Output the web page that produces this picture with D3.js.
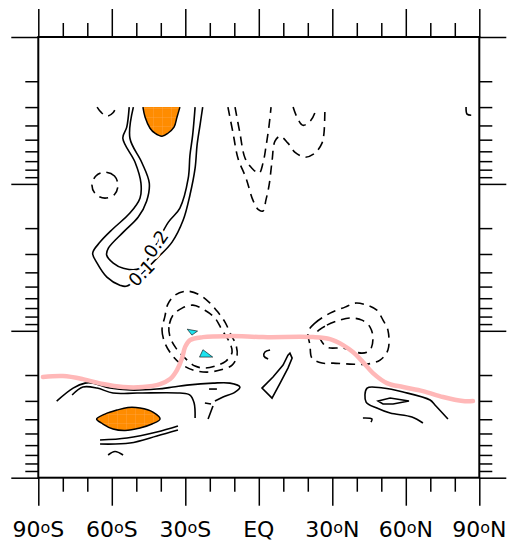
<!DOCTYPE html>
<html lang="en">
<head>
<meta charset="UTF-8">
<title>Latitude-pressure section</title>
<script src="https://d3js.org/d3.v7.min.js"></script>
<style>
  body { margin: 0; background: #fff; }
  svg { display: block; }
</style>
</head>
<body>
<script>
// ---- axis ticks ----
const latMajor = [-90, -60, -30, 0, 30, 60, 90]
const latMinor = [-80, -70, -50, -40, -20, -10, 10, 20, 40, 50, 70, 80]
const latLabelNum = ["90", "60", "30", "EQ", "30", "60", "90"]
const latLabelHemi = ["S", "S", "S", "", "N", "N", "N"]
const presMajor = [1, 10, 100, 1000]
const presMinor = [2, 3, 4, 5, 6, 7, 8, 9, 20, 30, 40, 50, 60, 70, 80, 90,
                   200, 300, 400, 500, 600, 700, 800, 900]

// ---- contours, [latitude, pressure hPa] ----
// positive (solid) lines
const cont01 = [[-52.9,3.0],[-53.9,4.11],[-55.5,4.89],[-50.5,7.12],[-48.1,9.89],[-48.5,12.5],[-52.6,15.8],[-59.5,20.2],[-64.8,24.9],[-67.8,29.6],[-66.0,34.6],[-62.0,43.1],[-56.7,48.9],[-53.8,49.6],[-41.1,31.5],[-35.4,24.9],[-30.9,17.7],[-28.1,11.9],[-26.0,7.82],[-25.2,5.45],[-24.0,3.99],[-22.9,3.0]]
const cont02 = [[-51.2,3.0],[-52.6,4.89],[-47.8,7.12],[-44.7,9.89],[-45.8,13.1],[-49.2,16.8],[-55.3,21.3],[-61.4,27.4],[-62.1,30.5],[-59.4,34.6],[-55.3,37.5],[-48.5,37.5],[-36.9,18.2],[-32.2,14.6],[-28.8,9.15],[-28.1,6.38],[-27.0,4.66],[-26.0,3.0]]
const poleTick = [[84.6,3.0],[85.0,3.35],[86.7,3.41]]
const lowOuter = [[-82.5,300.8],[-75.8,245.4],[-70.9,227.0],[-67.7,227.0],[-60.7,245.4],[-52.6,253.2],[-41.6,249.2],[-35.0,241.5],[-29.3,234.2],[-18.7,227.0],[-11.8,227.0],[-7.7,241.5],[-9.7,261.2],[-14.6,282.5],[-17.9,300.8]]
const lowInner = [[-76.2,273.8],[-71.8,241.5],[-66.0,245.4],[-59.5,265.4],[-49.7,265.4],[-32.2,265.4],[-28.1,273.8],[-26.4,310.4],[-26.0,392.5]]
const bitA = [[-20.3,249.2],[-17.1,249.2]]
const bitB = [[-22.0,310.4],[-19.5,315.2]]
const bitC = [[-18.7,325.3],[-20.7,398.7]]
const bandUpper = [[-64.8,554.1],[-53.8,537.0],[-41.6,488.8],[-33.0,444.9]]
const bandLower = [[-64.8,589.9],[-52.6,580.8],[-41.6,520.4],[-33.0,473.7]]
const smallArc = [[-61.5,700.6],[-58.7,663.4],[-55.4,700.6]]
const eqHook = [[4.6,135.3],[2.5,139.6],[2.1,148.7],[3.8,155.8]]
const eqBlade = [[12.7,141.8],[13.6,153.4],[11.9,179.4],[8.7,227.0],[5.4,287.0],[1.3,245.4],[5.8,206.5],[9.9,171.2],[11.9,146.4]]
const nhOuter = [[67.0,424.5],[62.5,386.4],[53.6,363.1],[48.2,335.7],[43.8,305.5],[44.2,245.4],[50.7,245.4],[58.9,261.2],[69.9,296.1],[71.9,320.2],[77.2,398.7]]
const nhInner = [[48.7,300.8],[53.6,287.0],[61.3,300.8],[54.8,315.2],[50.7,315.2]]
const nhMark = [[42.5,392.5],[46.2,398.7],[45.8,418.0]]

// negative (dashed) lines
const negCircle = [[-57.5,10.2],[-58.9,8.84],[-62.8,8.32],[-66.5,8.84],[-68.1,10.2],[-66.5,11.8],[-62.8,12.5],[-58.9,11.8]]
const negTopU = [[-66.0,3.0],[-64.4,3.25],[-62.0,3.46],[-59.5,3.28],[-58.3,3.0]]
const negVOuter = [[-12.6,3.0],[-10.5,4.52],[-8.5,6.69],[-5.2,9.15],[-2.4,12.9],[-0.3,14.9],[1.7,15.3],[2.9,12.9],[4.2,10.2],[5.4,7.01],[6.6,5.12],[8.7,4.74],[11.9,5.28],[14.8,6.09],[18.9,6.58],[22.9,6.18],[25.8,5.28],[26.6,4.52],[27.0,3.0]]
const negVInner = [[-9.7,3.0],[-7.7,4.52],[-5.6,6.69],[-2.8,7.82],[0.1,8.46],[1.7,7.23],[2.9,5.63],[4.2,3.99],[5.0,3.0]]
const negTopU2 = [[14.0,3.0],[15.6,3.52],[18.0,3.99],[20.9,3.75],[22.9,3.28],[23.3,3.0]]
const shOuter = [[-38.3,79.4],[-39.5,98.9],[-38.3,121.3],[-35.4,146.4],[-32.2,165.9],[-26.9,185.1],[-21.1,191.0],[-15.8,185.1],[-10.9,171.2],[-8.9,148.7],[-9.3,125.1],[-11.3,107.0],[-13.8,87.3],[-16.7,74.6],[-19.9,64.8],[-24.0,57.2],[-29.3,53.7],[-34.2,57.2],[-37.1,65.8]]
const shInner = [[-35.0,78.2],[-36.7,94.4],[-36.2,110.4],[-33.8,131.2],[-30.1,153.4],[-26.0,173.9],[-22.0,179.4],[-17.9,173.9],[-13.4,160.7],[-10.9,139.6],[-12.2,117.5],[-15.0,98.9],[-17.9,81.9],[-22.0,72.4],[-26.9,66.9],[-31.3,70.1]]
const nhDashOuter = [[20.1,102],[22.9,88.7],[29.1,75.8],[35.2,69.0],[39.3,64.8],[44.2,66.9],[48.2,72.4],[50.7,84.6],[52.7,98.9],[52.7,135.3],[49.5,158.2],[44.2,168.5],[37.2,168.5],[30.3,165.9],[25.8,165.9],[21.7,153.4],[20.9,125.1]]
const nhDashInner = [[23.8,102],[27.8,91.5],[33.1,84.6],[37.2,81.9],[42.1,84.6],[45.4,94.4],[46.6,112.1],[45.4,135.3],[42.1,141.8],[34.4,131.2],[27.8,129.1],[24.2,107.0]]

// shaded regions
const orangeTop = [[-47.3,3.0],[-46.4,3.52],[-44.4,4.18],[-42.4,4.52],[-39.5,4.74],[-37.1,4.52],[-34.6,4.11],[-33.4,3.52],[-32.2,3.0]]
const orangeLow = [[-66.2,398.7],[-62.8,368.8],[-57.9,346.4],[-53.4,333.0],[-48.5,335.7],[-43.2,357.4],[-40.3,398.7],[-43.6,431.2],[-48.5,459.1],[-54.6,477.5],[-59.5,466.3],[-63.6,431.2]]
const cyanA = [[-29.2,97.5],[-25.0,100.5],[-27.3,107.0]]
const cyanB = [[-22.8,134.5],[-18.8,151.0],[-24.2,151.0]]

// tropopause
const tropopause = [[-88.1,206.5],[-79.9,203.4],[-71.8,213.2],[-63.6,230.5],[-55.4,241.5],[-47.3,241.5],[-40.3,230.5],[-36.2,213.2],[-33.4,185.1],[-31.3,153.4],[-30.1,129.1],[-28.1,115.7],[-22.8,110.4],[-11.8,108.7],[1.7,110.4],[22.1,110.4],[29.1,113.9],[34.4,125.1],[38.4,139.6],[42.5,163.3],[46.6,194.0],[52.3,227.0],[58.9,241.5],[67.0,257.2],[75.2,282.5],[83.3,300.8],[87.4,300.8]]

// line labels [text, lat, pressure, angle]
const lineLabels = [["0.1", -47.9, 40.5, -45], ["0.2", -42.0, 25.6, -55]]

// ---- drawing ----
const width = 509
const height = 543

const svg = d3.select("body").append("svg")
    .attr("width", width)
    .attr("height", height)

const x = d3.scaleLinear().domain([-90, 90]).range([38.3, 479.3])
const y = d3.scaleLog().domain([1000, 1]).range([477.7, 37])

const defs = svg.append("defs")
const pat = defs.append("pattern")
    .attr("id", "hatch")
    .attr("patternUnits", "userSpaceOnUse")
    .attr("width", 9).attr("height", 9)
pat.append("rect").attr("width", 9).attr("height", 9).attr("fill", "#ff8c00")
pat.append("path").attr("d", "M0,0V9M0,0H9")
    .attr("stroke", "#ffa84f").attr("stroke-width", 0.7)

const smooth = d3.line().x(d => x(d[0])).y(d => y(d[1])).curve(d3.curveCatmullRom.alpha(0.5))
const smoothClosed = d3.line().x(d => x(d[0])).y(d => y(d[1])).curve(d3.curveCatmullRomClosed.alpha(0.5))
const closed = d3.line().x(d => x(d[0])).y(d => y(d[1])).curve(d3.curveLinearClosed)

const plot = svg.append("g")

// filled regions
plot.append("path").attr("d", smooth(orangeTop)).attr("fill", "url(#hatch)")
    .attr("stroke", "black").attr("stroke-width", 1.5)
plot.append("path").attr("d", smoothClosed(orangeLow)).attr("fill", "url(#hatch)")
    .attr("stroke", "black").attr("stroke-width", 1.5)
;[cyanA, cyanB].forEach(c => {
    plot.append("path").attr("d", closed(c)).attr("fill", "#1ee3ef")
        .attr("stroke", "black").attr("stroke-width", 0.6)
})

// solid contours
const solidOpen = [cont01, cont02, poleTick, lowOuter, lowInner, bitA, bitB, bitC,
                   bandUpper, bandLower, smallArc, eqHook, nhOuter, nhMark]
const solidClosed = [eqBlade, nhInner]
solidOpen.forEach(c => {
    plot.append("path").attr("d", smooth(c)).attr("fill", "none")
        .attr("stroke", "black").attr("stroke-width", 1.6)
})
solidClosed.forEach(c => {
    plot.append("path").attr("d", closed(c)).attr("fill", "none")
        .attr("stroke", "black").attr("stroke-width", 1.6)
})

// dashed contours
const dashedOpen = [negTopU, negVOuter, negVInner, negTopU2]
const dashedClosed = [negCircle, shOuter, shInner, nhDashOuter, nhDashInner]
dashedOpen.forEach(c => {
    plot.append("path").attr("d", smooth(c)).attr("fill", "none")
        .attr("stroke", "black").attr("stroke-width", 1.6)
        .attr("stroke-dasharray", "9,6")
})
dashedClosed.forEach(c => {
    plot.append("path").attr("d", smoothClosed(c)).attr("fill", "none")
        .attr("stroke", "black").attr("stroke-width", 1.6)
        .attr("stroke-dasharray", "9,6")
})

// contour labels
lineLabels.forEach(l => {
    plot.append("text")
        .attr("transform", `translate(${x(l[1])},${y(l[2])}) rotate(${l[3]})`)
        .attr("text-anchor", "middle")
        .attr("dy", "0.36em")
        .attr("font-family", "DejaVu Sans")
        .attr("font-size", 18)
        .attr("stroke", "white").attr("stroke-width", 6)
        .attr("paint-order", "stroke")
        .attr("fill", "black")
        .text(l[0])
})

// tropopause
plot.append("path").attr("d", smooth(tropopause)).attr("fill", "none")
    .attr("stroke", "#ffb8b8").attr("stroke-width", 4.5)
    .attr("stroke-linecap", "round")

// ---- axes ----
const tickStyle = g => {
    g.select(".domain").remove()
    g.selectAll(".tick line").attr("stroke", "black").attr("stroke-width", 1.5)
    g.selectAll(".tick text").remove()
}

svg.append("g").attr("transform", `translate(0,${y(1000)})`)
    .call(d3.axisBottom(x).tickValues(latMajor).tickSize(28).tickSizeOuter(0)).call(tickStyle)
svg.append("g").attr("transform", `translate(0,${y(1000)})`)
    .call(d3.axisBottom(x).tickValues(latMinor).tickSize(14).tickSizeOuter(0)).call(tickStyle)
svg.append("g").attr("transform", `translate(0,${y(1)})`)
    .call(d3.axisTop(x).tickValues(latMajor).tickSize(28).tickSizeOuter(0)).call(tickStyle)
svg.append("g").attr("transform", `translate(0,${y(1)})`)
    .call(d3.axisTop(x).tickValues(latMinor).tickSize(14).tickSizeOuter(0)).call(tickStyle)
svg.append("g").attr("transform", `translate(${x(-90)},0)`)
    .call(d3.axisLeft(y).tickValues(presMajor).tickSize(27).tickSizeOuter(0)).call(tickStyle)
svg.append("g").attr("transform", `translate(${x(-90)},0)`)
    .call(d3.axisLeft(y).tickValues(presMinor).tickSize(13).tickSizeOuter(0)).call(tickStyle)
svg.append("g").attr("transform", `translate(${x(90)},0)`)
    .call(d3.axisRight(y).tickValues(presMajor).tickSize(27).tickSizeOuter(0)).call(tickStyle)
svg.append("g").attr("transform", `translate(${x(90)},0)`)
    .call(d3.axisRight(y).tickValues(presMinor).tickSize(13).tickSizeOuter(0)).call(tickStyle)

// frame
svg.append("rect")
    .attr("x", x(-90)).attr("y", y(1))
    .attr("width", x(90) - x(-90)).attr("height", y(1000) - y(1))
    .attr("fill", "none").attr("stroke", "black").attr("stroke-width", 2)

// latitude labels
latMajor.forEach((v, i) => {
    const t = svg.append("text")
        .attr("x", x(v)).attr("y", 537)
        .attr("text-anchor", "middle")
        .attr("font-family", "DejaVu Sans")
        .attr("font-size", 22)
        .attr("fill", "black")
    t.append("tspan").text(latLabelNum[i])
    if (latLabelHemi[i]) {
        t.append("tspan").attr("font-size", 16).attr("dy", -4).text("o")
        t.append("tspan").attr("dy", 4).text(latLabelHemi[i])
    }
})
</script>
</body>
</html>
